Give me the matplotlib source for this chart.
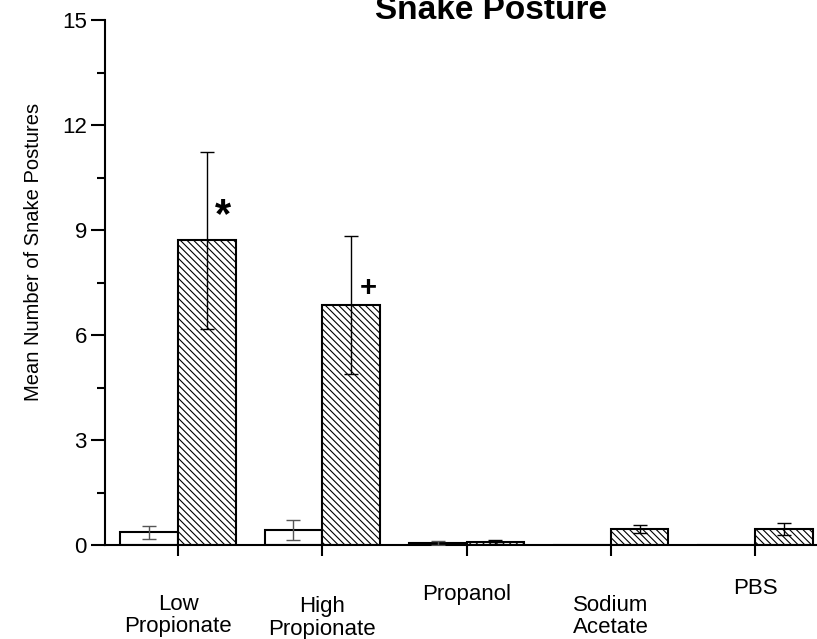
import matplotlib
matplotlib.use("Agg")
import matplotlib.pyplot as plt
import numpy as np

plt.rcParams['font.family'] = ['Liberation Sans', 'DejaVu Sans']
plt.rcParams['hatch.linewidth'] = 0.8

# data
categories = ["Low\nPropionate", "High\nPropionate", "Propanol", "Sodium\nAcetate", "PBS"]
control_mean = [0.36, 0.43, 0.06, 0.0, 0.0]
control_err = [0.18, 0.28, 0.06, 0.0, 0.0]
treated_mean = [8.71, 6.86, 0.08, 0.46, 0.46]
treated_err = [2.53, 1.97, 0.05, 0.11, 0.17]
marks = ["*", "+", "", "", ""]
yticks = [0, 3, 6, 9, 12, 15]

# baseline of each category label (data units, below the axis) - they are staggered
label_base = [-2.49, -2.57, -1.57, -2.52, -1.4]

fig = plt.figure(figsize=(8.17, 6.39), dpi=100)
ax = fig.add_axes([105/817, 94/639, 1 - 105/817, 525/639])

x = np.arange(1, len(categories) + 1)
w = 0.4

ax.bar(x - w/2, control_mean, width=w, color="white", edgecolor="black", linewidth=1.5, zorder=2)
ax.bar(x + w/2, treated_mean, width=w, color="white", edgecolor="black", linewidth=1.5,
       hatch="\\\\\\\\\\", zorder=2)

has_ctrl = np.array(control_mean) > 0
ax.errorbar((x - w/2)[has_ctrl], np.array(control_mean)[has_ctrl], yerr=np.array(control_err)[has_ctrl],
            fmt="none", ecolor="#555555", elinewidth=1.0, capsize=4.7, capthick=1.0, zorder=3)
ax.errorbar(x + w/2, treated_mean, yerr=treated_err, fmt="none", ecolor="black",
            elinewidth=1.0, capsize=4.7, capthick=1.0, zorder=3)

# significance marks
ax.text(x[0] + w/2 + 0.11, 9.4, marks[0], ha="center", va="center", fontsize=30, fontweight="bold")
ax.text(x[1] + w/2 + 0.12, 7.35, marks[1], ha="center", va="center", fontsize=21, fontweight="bold")

ax.set_xlim(0.493, 5.43)
ax.set_ylim(0, 15)
ax.set_yticks(yticks)
ax.set_yticks(np.arange(1.5, 15, 3), minor=True)
ax.set_xticks(x)
ax.set_xticklabels([])
ax.tick_params(axis="y", which="major", direction="out", length=10, width=1.5, labelsize=16, pad=3)
ax.tick_params(axis="y", which="minor", direction="out", length=6, width=1.5)
ax.tick_params(axis="x", direction="out", length=8, width=1.5)

for i, lab in enumerate(categories):
    ax.text(x[i], label_base[i], lab, ha="center", va="baseline", fontsize=16,
            linespacing=1.1, clip_on=False)

ax.spines["top"].set_visible(False)
ax.spines["right"].set_visible(False)
ax.spines["left"].set_linewidth(1.5)
ax.spines["bottom"].set_linewidth(1.5)

ax.set_ylabel("Mean Number of Snake Postures", fontsize=14.5)
ax.yaxis.set_label_coords(-0.087, 0.558)

fig.text(491/817, 1 - 19/639, "Snake Posture", ha="center", va="baseline",
         fontsize=24, fontweight="bold")

fig.savefig("out.png", dpi=100)
